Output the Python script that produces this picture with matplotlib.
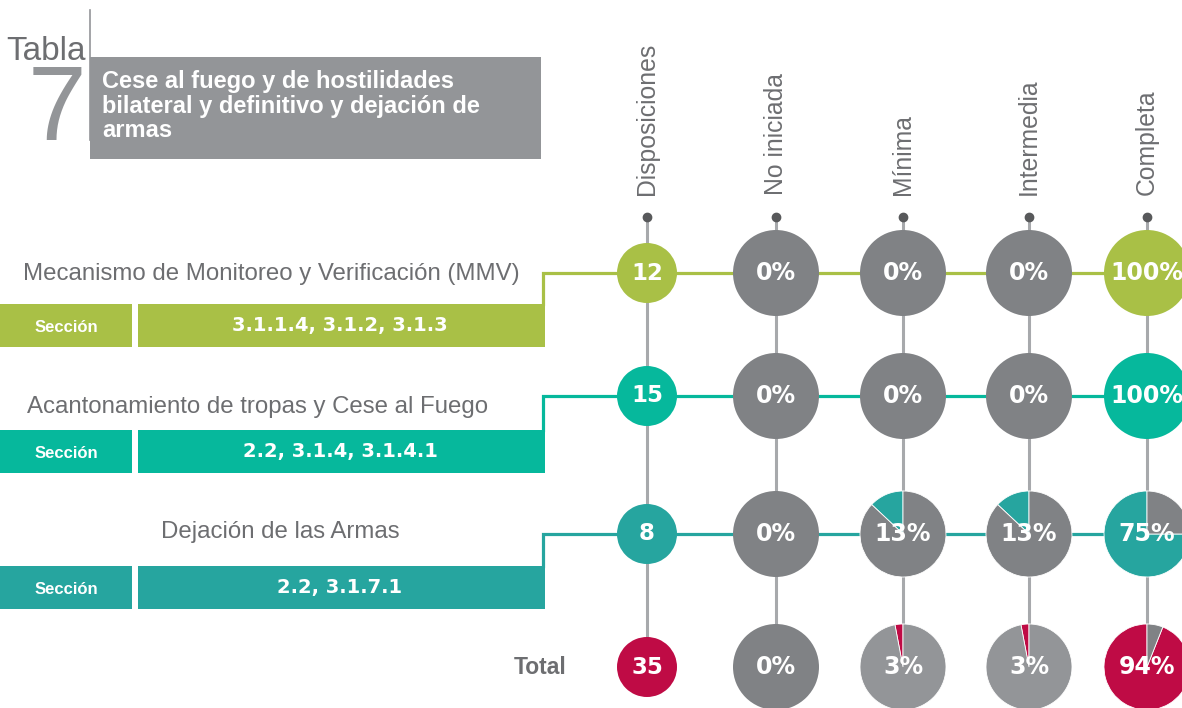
import matplotlib
matplotlib.use("Agg")
import matplotlib.pyplot as plt
from matplotlib.patches import Rectangle

plt.rcParams["font.family"] = ["Liberation Sans", "DejaVu Sans"]

# ---- data ----
title_lines = ["Cese al fuego y de hostilidades",
               "bilateral y definitivo y dejación de",
               "armas"]
columns = ["Disposiciones", "No iniciada", "Mínima", "Intermedia", "Completa"]
row_names = ["Mecanismo de Monitoreo y Verificación (MMV)",
             "Acantonamiento de tropas y Cese al Fuego",
             "Dejación de las Armas"]
section_codes = ["3.1.1.4, 3.1.2, 3.1.3", "2.2, 3.1.4, 3.1.4.1", "2.2, 3.1.7.1"]
disposiciones = [12, 15, 8]
total_disposiciones = 35

# percent per row (3 rows + total) for each status
no_iniciada = [0, 0, 0, 0]
minima = [0, 0, 13, 3]
intermedia = [0, 0, 13, 3]
completa = [100, 100, 75, 94]

# ---- style / layout ----
W, H = 1182, 708
GREEN = "#A9C046"
TEAL = "#06B89C"
TEAL_DK = "#26A59F"
CRIMSON = "#BF0B45"
GREY_DK = "#808285"
GREY_LT = "#939598"
LINE_GREY = "#A7A9AC"
TEXT_GREY = "#6D6E71"
row_colors = [GREEN, TEAL, TEAL_DK, CRIMSON]
total_bg = [GREY_DK, GREY_LT, GREY_LT, GREY_DK]

col_x = [647, 776, 903, 1029, 1147]
row_y = [273, 396, 534, 667]
label_x = [271, 258, 280]
label_y = [274, 407, 532]
bar_top = [304, 430, 566]
bar_h = 43
conn_x = 543
R_BIG, R_SMALL = 43, 30


def Y(y):
    # pixel row (top origin) -> data y
    return H - y


fig = plt.figure(figsize=(W / 100, H / 100), dpi=100)
ax = fig.add_axes([0, 0, 1, 1])

# header
ax.text(86, Y(60), "Tabla", ha="right", va="baseline", fontsize=24, color=TEXT_GREY)
ax.text(57, Y(140), "7", ha="center", va="baseline", fontsize=76, color=GREY_LT)
ax.plot([90, 90], [Y(10), Y(140)], color=GREY_LT, lw=1.2)
ax.add_patch(Rectangle((90, Y(159)), 451, 102, color=GREY_LT, lw=0))
for i, line in enumerate(title_lines):
    ax.text(102, Y(88 + 24.5 * i), line, ha="left", va="baseline", fontsize=17,
            fontweight="bold", color="white")

# column headers, dots and vertical guide lines
for x, name in zip(col_x, columns):
    ax.text(x, Y(195), name, rotation=90, ha="center", va="bottom",
            fontsize=17.8, color=TEXT_GREY)
    ax.plot([x, x], [Y(217), Y(row_y[-1])], color=LINE_GREY, lw=2.2, zorder=1)
ax.plot(col_x, [Y(217)] * len(col_x), "o", ms=6, color="#58595B", zorder=2)

# row labels, section bars and connectors
for i, name in enumerate(row_names):
    c = row_colors[i]
    ax.text(label_x[i], Y(label_y[i]), name, ha="center", va="center",
            fontsize=17.3, color=TEXT_GREY)
    ax.add_patch(Rectangle((0, Y(bar_top[i] + bar_h)), 132, bar_h, color=c, lw=0))
    ax.add_patch(Rectangle((138, Y(bar_top[i] + bar_h)), 407, bar_h, color=c, lw=0))
    ax.text(66, Y(bar_top[i] + bar_h / 2 + 2), "Sección", ha="center", va="center",
            fontsize=12, fontweight="bold", color="white")
    ax.text(340, Y(bar_top[i] + bar_h / 2), section_codes[i], ha="center", va="center",
            fontsize=14, fontweight="bold", color="white", family=["DejaVu Sans"])
    ax.plot([conn_x, conn_x, W], [Y(bar_top[i]), Y(row_y[i]), Y(row_y[i])],
            color=c, lw=2.3, solid_joinstyle="miter", zorder=1.5)

ax.text(566, Y(row_y[-1]), "Total", ha="right", va="center", fontsize=16.5,
        fontweight="bold", color=TEXT_GREY)

# disposiciones circles
disp_all = disposiciones + [total_disposiciones]
for i, d in enumerate(disp_all):
    ax.pie([1], colors=[row_colors[i]], radius=R_SMALL, center=(col_x[0], Y(row_y[i])),
           frame=True, wedgeprops=dict(lw=0, zorder=3))
    ax.text(col_x[0], Y(row_y[i]), str(d), ha="center", va="center", fontsize=16.5,
            fontweight="bold", color="white", family=["DejaVu Sans"], zorder=5)

# status pies
status = [no_iniciada, minima, intermedia, completa]
for j, vals in enumerate(status):
    x = col_x[j + 1]
    for i, v in enumerate(vals):
        bg = total_bg[j] if i == 3 else GREY_DK
        partial = 0 < v < 100
        ax.pie([v, 100 - v], colors=[row_colors[i], bg], startangle=90,
               counterclock=True, radius=R_BIG, center=(x, Y(row_y[i])), frame=True,
               wedgeprops=dict(lw=0.6 if partial else 0, edgecolor="white", zorder=3))
        ax.text(x, Y(row_y[i]), f"{v}%", ha="center", va="center", fontsize=17,
                fontweight="bold", color="white", family=["DejaVu Sans"], zorder=5)

ax.set_xlim(0, W)
ax.set_ylim(0, H)
ax.axis("off")
fig.savefig("out.png", dpi=100)
plt.close(fig)
